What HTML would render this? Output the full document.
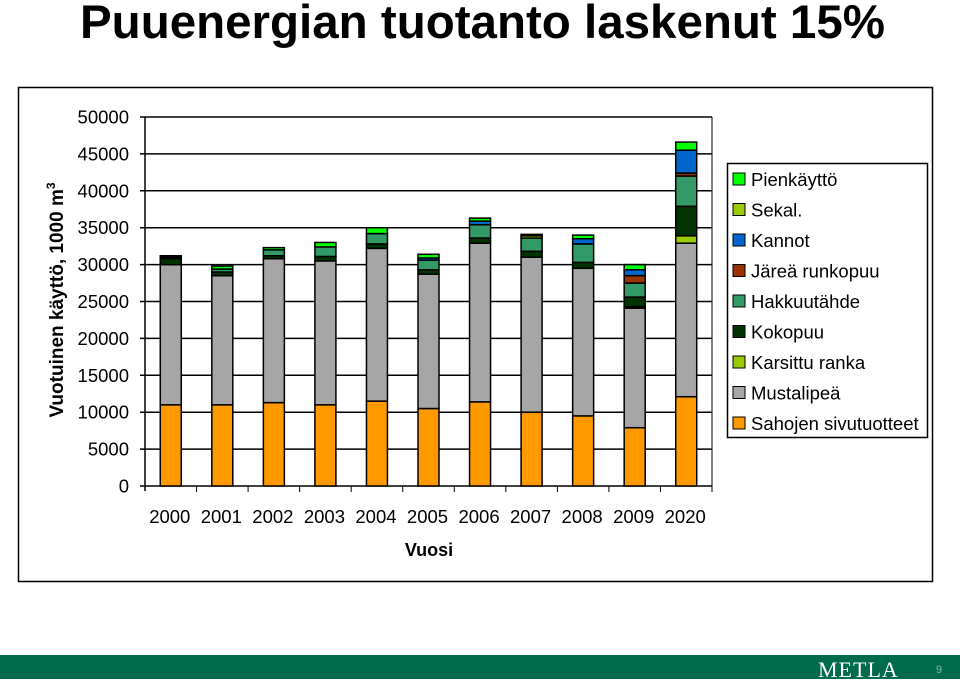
<!DOCTYPE html>
<html><head><meta charset="utf-8"><style>
body{margin:0;width:960px;height:679px;background:#fff;overflow:hidden;font-family:"Liberation Sans",sans-serif;position:relative}
#title{position:absolute;left:80px;top:-5px;font-size:47.5px;font-weight:bold;white-space:nowrap}
#footer{position:absolute;left:0;top:655px;width:960px;height:24px;background:#006b4a}
#metla{position:absolute;left:818px;top:657px;color:#fff;font-family:"Liberation Serif",serif;font-size:22px;letter-spacing:1px}
#pg{position:absolute;left:936px;top:664px;color:#7fbf9f;font-size:11px}
</style></head><body>
<div id="title">Puuenergian tuotanto laskenut 15%</div>
<svg id="chart" width="960" height="679" style="position:absolute;left:0;top:0"></svg>
<div id="footer"></div>
<div id="metla">METLA</div>
<div id="pg">9</div>
<script>
const categories=["2000","2001","2002","2003","2004","2005","2006","2007","2008","2009","2020"];
const seriesNames=["Sahojen sivutuotteet","Mustalipeä","Karsittu ranka","Kokopuu","Hakkuutähde","Järeä runkopuu","Kannot","Sekal.","Pienkäyttö"];
const seriesColors=["#ff9900","#a6a6a6","#99cc00","#003300","#339966","#993300","#0066cc","#99cc00","#00ff00"];
const sahojen=[11000,11000,11300,11000,11500,10500,11400,10000,9500,7900,12100];
const mustalipea=[19000,17500,19500,19500,20700,18200,21500,21000,20000,16200,20800];
const karsittu=[0,0,0,0,0,0,0,0,0,200,1000];
const kokopuu=[800,500,400,600,600,600,700,800,800,1300,4000];
const hakkuutahde=[200,400,800,1300,1400,1300,1800,1800,2500,1900,4100];
const jarea=[0,0,0,0,0,0,0,0,0,1000,400];
const kannot=[0,0,0,0,0,300,500,0,700,800,3100];
const sekal=[0,0,0,0,0,0,0,300,0,0,0];
const pienkaytto=[200,400,300,600,800,500,400,200,500,700,1100];
const yTicks=[0,5000,10000,15000,20000,25000,30000,35000,40000,45000,50000];
const series=[sahojen,mustalipea,karsittu,kokopuu,hakkuutahde,jarea,kannot,sekal,pienkaytto];
const svg=document.getElementById('chart');const NS="http://www.w3.org/2000/svg";
function mk(t,a,p){const e=document.createElementNS(NS,t);for(const k in a)e.setAttribute(k,a[k]);(p||svg).appendChild(e);return e;}
const X0=145,X1=712,Y0=486,Y1=117,YMAX=50000;
const y=v=>Y0-(Y0-Y1)*v/YMAX;
const bw=(X1-X0)/categories.length;
const x=i=>X0+bw*i+bw/2;
let f=mk('rect',{x:18.5,y:87.5,width:914,height:494,fill:'none',stroke:'#000','stroke-width':1.5});

yTicks.forEach(t=>{
 let g=mk('line',{x1:X0-5,x2:X1,y1:y(t),y2:y(t),stroke:'#000','stroke-width':1.5});
 
 let l=mk('text',{x:129,y:y(t)+6.5,'text-anchor':'end','font-size':18.5});l.textContent=t;
 
});
let ax=mk('line',{x1:X0,x2:X0,y1:Y1,y2:Y0+5,stroke:'#000','stroke-width':1.5});

let ax2=mk('line',{x1:X1,x2:X1,y1:Y1,y2:Y0,stroke:'#000','stroke-width':1});

categories.forEach((c,i)=>{
 let tk=mk('line',{x1:X0+bw*(i+1),x2:X0+bw*(i+1),y1:Y0,y2:Y0+6,stroke:'#000'});
 
 let l=mk('text',{x:x(i)-1,y:523,'text-anchor':'middle','font-size':18.5});l.textContent=c;
 
 let cum=0;
 series.forEach((s,k)=>{const v=s[i];if(v<=0)return;
  let r=mk('rect',{x:x(i)-10.5,y:y(cum+v),width:21,height:y(cum)-y(cum+v),fill:seriesColors[k],stroke:'#000','stroke-width':1.5});
  
  cum+=v;});
});
let xt=mk('text',{x:429,y:556,'text-anchor':'middle','font-size':18,'font-weight':'bold'});xt.textContent='Vuosi';

let yt=mk('text',{transform:'translate(63,300) rotate(-90)','text-anchor':'middle','font-size':19,'font-weight':'bold'});
yt.innerHTML='Vuotuinen käyttö, 1000 m<tspan dy="-8" font-size="12">3</tspan>';

let lb=mk('rect',{x:727.5,y:163.5,width:200,height:274,fill:'#fff',stroke:'#000','stroke-width':1.5});

for(let j=0;j<9;j++){const k=8-j;const yy=180+j*30.5;
 let sw=mk('rect',{x:733,y:yy-7,width:12,height:12,fill:seriesColors[k],stroke:'#000'});
 
 let t=mk('text',{x:751,y:yy+6,'font-size':18.5});t.textContent=seriesNames[k];
 }
</script>
</body></html>
